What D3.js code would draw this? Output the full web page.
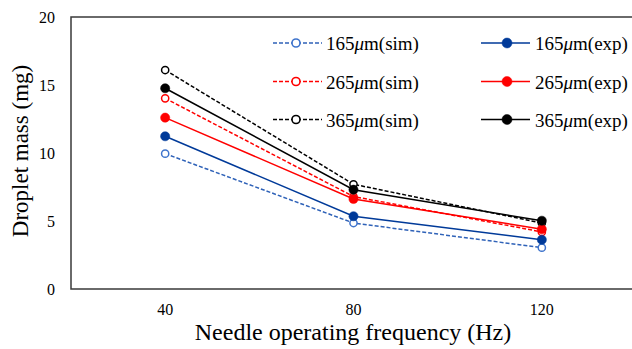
<!DOCTYPE html>
<html>
<head>
<meta charset="utf-8">
<script src="https://cdn.jsdelivr.net/npm/d3@7"></script>
<style>
  body { margin: 0; background: #fff; }
  svg text { font-family: 'Liberation Serif', 'Times New Roman', Times, serif; fill: #000; }
</style>
</head>
<body>
<svg id="chart" width="632" height="349"></svg>
<script>
// chart values
const frequencies = ["40", "80", "120"];
const yTicks = [0, 5, 10, 15, 20];

const sim165 = [9.95, 4.85, 3.04];
const sim265 = [14.02, 6.8, 4.2];
const sim365 = [16.1, 7.7, 4.85];
const exp165 = [11.23, 5.35, 3.62];
const exp265 = [12.6, 6.62, 4.4];
const exp365 = [14.76, 7.3, 5.02];

const seriesList = [
  { label: "165", kind: "sim", values: sim165, color: "#2f62b8", marker: "#3f74cc" },
  { label: "265", kind: "sim", values: sim265, color: "#ff0000", marker: "#ff0000" },
  { label: "365", kind: "sim", values: sim365, color: "#000000", marker: "#000000" },
  { label: "165", kind: "exp", values: exp165, color: "#003a99", marker: "#003a99" },
  { label: "265", kind: "exp", values: exp265, color: "#ff0000", marker: "#ff0000" },
  { label: "365", kind: "exp", values: exp365, color: "#000000", marker: "#000000" }
];

const svg = d3.select("#chart");
const margin = { left: 71, top: 17, right: -4, bottom: 60 };
const width = 632 - margin.left - margin.right;
const height = 349 - margin.top - margin.bottom;

const g = svg.append("g").attr("transform", `translate(${margin.left},${margin.top})`);

const x = d3.scalePoint().domain(frequencies).range([0, width]).padding(0.5);
const y = d3.scaleLinear().domain([0, 20]).range([height, 0]);

// frame: top, left, bottom
g.append("path")
  .attr("d", `M${width},0H0V${height}H${width}`)
  .attr("fill", "none")
  .attr("stroke", "#3a3a3a")
  .attr("stroke-width", 1.5);

// y tick labels
g.selectAll(".ytick")
  .data(yTicks)
  .enter()
  .append("text")
  .attr("class", "ytick")
  .attr("x", -16)
  .attr("y", d => y(d))
  .attr("dy", "0.35em")
  .attr("text-anchor", "end")
  .style("font-size", "16px")
  .text(d => d);

// x tick labels
g.selectAll(".xtick")
  .data(frequencies)
  .enter()
  .append("text")
  .attr("class", "xtick")
  .attr("x", d => x(d))
  .attr("y", height + 26)
  .attr("text-anchor", "middle")
  .style("font-size", "16px")
  .text(d => d);

// axis titles
svg.append("text")
  .attr("x", 353)
  .attr("y", 340)
  .attr("text-anchor", "middle")
  .style("font-size", "24px")
  .text("Needle operating frequency (Hz)");

svg.append("text")
  .attr("transform", "translate(28,151) rotate(-90)")
  .attr("text-anchor", "middle")
  .style("font-size", "23px")
  .text("Droplet mass (mg)");

const line = d3.line()
  .x((d, i) => x(frequencies[i]))
  .y(d => y(d));

// lines
seriesList.forEach(s => {
  g.append("path")
    .datum(s.values)
    .attr("fill", "none")
    .attr("stroke", s.color)
    .attr("stroke-width", 1.5)
    .attr("stroke-dasharray", s.kind === "sim" ? "4,2" : null)
    .attr("d", line);
});

// markers
seriesList.forEach(s => {
  g.selectAll(null)
    .data(s.values)
    .enter()
    .append("circle")
    .attr("cx", (d, i) => x(frequencies[i]))
    .attr("cy", d => y(d))
    .attr("r", s.kind === "sim" ? 3.6 : 4.6)
    .attr("fill", s.kind === "sim" ? "#fff" : s.marker)
    .attr("stroke", s.marker)
    .attr("stroke-width", s.kind === "sim" ? 1.5 : 0.5);
});

// legend
const legendRows = [43, 81.5, 119.5];
seriesList.forEach((s, i) => {
  const row = legendRows[i % 3];
  const x0 = s.kind === "sim" ? 273 : 481;
  const lg = svg.append("g").attr("transform", `translate(${x0},${row})`);
  lg.append("line")
    .attr("x1", 0).attr("x2", 49)
    .attr("y1", 0).attr("y2", 0)
    .attr("stroke", s.color)
    .attr("stroke-width", 1.5)
    .attr("stroke-dasharray", s.kind === "sim" ? "4,2" : null);
  lg.append("circle")
    .attr("cx", s.kind === "sim" ? 23 : 26)
    .attr("cy", 0)
    .attr("r", s.kind === "sim" ? 4 : 5)
    .attr("fill", s.kind === "sim" ? "#fff" : s.marker)
    .attr("stroke", s.marker)
    .attr("stroke-width", s.kind === "sim" ? 1.6 : 0.5);
  const t = lg.append("text")
    .attr("x", s.kind === "sim" ? 53 : 54)
    .attr("y", 7)
    .style("font-size", "19px");
  t.append("tspan").text(s.label);
  t.append("tspan").style("font-style", "italic").text("μ");
  t.append("tspan").text(`m(${s.kind})`);
});
</script>
</body>
</html>
